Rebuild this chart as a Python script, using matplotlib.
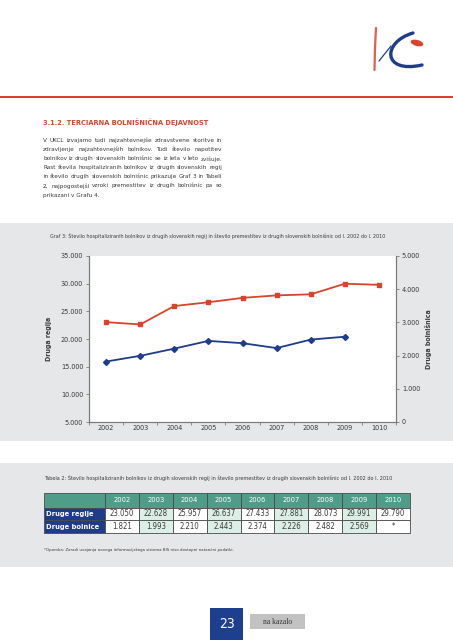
import numpy as np
import matplotlib
matplotlib.use('Agg')
from matplotlib import pyplot as plt
from matplotlib import font_manager
from matplotlib.patches import Rectangle, Ellipse, PathPatch
from matplotlib.path import Path
from matplotlib.ticker import FuncFormatter

W, H = 453, 640

# data
years = ['2002', '2003', '2004', '2005', '2006', '2007', '2008', '2009', '2010']
axis_years = ['2002', '2003', '2004', '2005', '2006', '2007', '2008', '2009', '1010']
regije = [23050, 22628, 25957, 26637, 27433, 27881, 28073, 29991, 29790]
bolnice = [1821, 1993, 2210, 2443, 2374, 2226, 2482, 2569]
row_names = ['Druge regije', 'Druge bolnice']

heading = "3.1.2. TERCIARNA BOLNIŠNIČNA DEJAVNOST"
paragraph = [
    "V UKCL izvajamo tudi najzahtevnejše zdravstvene storitve in",
    "zdravljenje najzahtevnejših bolnikov. Tudi število napotitev",
    "bolnikov iz drugih slovenskih bolnišnic se iz leta v leto zvišuje.",
    "Rast števila hospitaliziranih bolnikov iz drugih slovenskih regij",
    "in število drugih slovenskih bolnišnic prikazuje Graf 3 in Tabeli",
    "2, najpogostejši vzroki premestitev iz drugih bolnišnic pa so",
    "prikazani v Grafu 4.",
]
graf_title = ("Graf 3: Število hospitaliziranih bolnikov iz drugih slovenskih regij in število "
              "premestitev iz drugih slovenskih bolnišnic od l. 2002 do l. 2010")
tabela_title = ("Tabela 2: Število hospitaliziranih bolnikov iz drugih slovenskih regij in število "
                "premestitev iz drugih slovenskih bolnišnic od l. 2002 do l. 2010")
footnote = "*Opomba: Zaradi uvajanja novega informacijskega sistema BIS niso dostopni natančni podatki."

RED = '#d8432d'
BLUE = '#1f3c8c'
GREY_BG = '#e6e7e8'
TEAL = '#4f9d88'
LIGHT = '#dcefe6'
AXC = '#7a7a7a'
TXT = '#3a3a3a'

# pick a narrow sans if one is installed
fonts = font_manager.fontManager.ttflist
names = {f.name for f in fonts}
if 'Liberation Sans Narrow' in names:
    plt.rcParams['font.family'] = ['Liberation Sans Narrow', 'DejaVu Sans']
elif any(f.name == 'DejaVu Sans' and 'condensed' in str(f.stretch) for f in fonts):
    plt.rcParams['font.family'] = ['DejaVu Sans']
    plt.rcParams['font.stretch'] = 'condensed'
else:
    plt.rcParams['font.family'] = ['Liberation Sans', 'DejaVu Sans']

fmt = FuncFormatter(lambda v, _: f"{int(v):,}".replace(',', '.'))

fig = plt.figure(figsize=(W / 100, H / 100), dpi=100)
bg = fig.add_axes([0, 0, 1, 1], zorder=0)
bg.set_xlim(0, W)
bg.set_ylim(H, 0)
bg.axis('off')
renderer = fig.canvas.get_renderer()


def fit_text(x0, x1, y, s, size=5, **kw):
    t = bg.text(x0, y, s, fontsize=size, va='center', ha='left', **kw)
    w = t.get_window_extent(renderer).width
    t.set_fontsize(size * (x1 - x0) / w)
    return t


def justify(x0, x1, y, s, size, **kw):
    words = s.split()
    ts = [bg.text(0, y, w_, fontsize=size, va='center', ha='left', **kw) for w_ in words]
    widths = [t.get_window_extent(renderer).width for t in ts]
    gap = (x1 - x0 - sum(widths)) / (len(words) - 1)
    x = x0
    for t, w_ in zip(ts, widths):
        t.set_x(x)
        x += w_ + gap


# header line and logo
bg.add_patch(Rectangle((0, 96), W, 1.8, color=RED, lw=0))
bg.plot([376, 375, 374.5], [28, 48, 70], color=RED, lw=1.6, solid_capstyle='round', alpha=0.85)
c_path = Path([(413, 33), (382, 42), (382, 74), (422, 65)],
              [Path.MOVETO, Path.CURVE4, Path.CURVE4, Path.CURVE4])
bg.add_patch(PathPatch(c_path, fc='none', ec=BLUE, lw=2.4, capstyle='round'))
bg.plot([391, 379], [46, 61], color=BLUE, lw=0.9, solid_capstyle='round')
bg.add_patch(Ellipse((417, 43), 13, 6, angle=15, color=RED, lw=0))

# heading and text
fit_text(43, 208, 122, heading, size=7, color=RED, fontweight='bold')
sizes = []
for line in paragraph:
    t = bg.text(0, 0, line, fontsize=5.5)
    sizes.append(5.5 * 178 / t.get_window_extent(renderer).width)
    t.remove()
psize = min(5.8, min(sizes))
for i, line in enumerate(paragraph):
    y = 140.7 + i * 9.05
    if i < len(paragraph) - 1:
        justify(43, 222, y, line, psize, color=TXT)
    else:
        bg.text(43, y, line, fontsize=psize, va='center', ha='left', color=TXT)

# grey panels
bg.add_patch(Rectangle((0, 223), W, 218, color=GREY_BG, lw=0))
bg.add_patch(Rectangle((0, 463), W, 104, color=GREY_BG, lw=0))
fit_text(50, 380, 235.7, graf_title, size=4, color=TXT)

# chart
ax = fig.add_axes([89 / W, 1 - 422 / H, (396 - 89) / W, (422 - 256) / H], zorder=2)
x = np.arange(len(years))
ax.plot(x, regije, color=RED, marker='s', ms=3, lw=1.3, zorder=3)
ax2 = ax.twinx()
ax2.plot(x[:len(bolnice)], bolnice, color=BLUE, marker='D', ms=3, lw=1.3, zorder=3)
ax.set_xlim(-0.5, len(years) - 0.5)
ax.set_ylim(5000, 35000)
ax2.set_ylim(0, 5000)
ax.set_yticks(np.arange(5000, 35001, 5000))
ax2.set_yticks(np.arange(0, 5001, 1000))
ax.yaxis.set_major_formatter(fmt)
ax2.yaxis.set_major_formatter(fmt)
ax.set_xticks(np.arange(-0.5, len(years), 1))
ax.set_xticklabels([])
ax.set_xticks(x, minor=True)
ax.set_xticklabels(axis_years, minor=True)
ax.tick_params(axis='x', which='major', length=2.5, color=AXC, width=0.6)
ax.tick_params(axis='x', which='minor', length=0, pad=2, labelsize=5.2, labelcolor=TXT)
ax.tick_params(axis='y', length=2.2, pad=2, labelsize=5.2, color=AXC, width=0.6, labelcolor=TXT)
ax2.tick_params(axis='y', length=2.2, pad=2, labelsize=5.2, color=AXC, width=0.6, labelcolor=TXT)
for a in (ax, ax2):
    a.spines['top'].set_visible(False)
    for s in ('left', 'right', 'bottom'):
        a.spines[s].set_color(AXC)
        a.spines[s].set_linewidth(0.8)

bg.text(112, 313, 'Druge regije', fontsize=5.2, color=TXT, va='center', ha='left')
bg.text(112, 345, 'Druge bolnice', fontsize=5.2, color=TXT, va='center', ha='left')
bg.text(49, 339, 'Druga regija', fontsize=5, color=TXT, rotation=90,
        va='center', ha='center', fontweight='bold')
bg.text(428, 339, 'Druga bolnišnica', fontsize=5, color=TXT, rotation=90,
        va='center', ha='center', fontweight='bold')

# table
fit_text(44, 387, 478, tabela_title, size=4, color=TXT)
col_x = [44, 105] + [105 + (i + 1) * (410 - 105) / len(years) for i in range(len(years))]
row_y = [493, 507.5, 520.2, 533]
table_rows = [[fmt(v) for v in regije],
              [fmt(v) for v in bolnice] + ['*'] * (len(years) - len(bolnice))]
for j in range(len(years) + 1):
    x0, x1 = col_x[j], col_x[j + 1]
    bg.add_patch(Rectangle((x0, row_y[0]), x1 - x0, row_y[1] - row_y[0],
                           fc=TEAL, ec='#4a4a4a', lw=0.6))
    if j > 0:
        bg.text((x0 + x1) / 2, (row_y[0] + row_y[1]) / 2, years[j - 1], fontsize=5.4,
                color='white', va='center', ha='center')
for r in range(2):
    y0, y1 = row_y[r + 1], row_y[r + 2]
    bg.add_patch(Rectangle((col_x[0], y0), col_x[1] - col_x[0], y1 - y0,
                           fc=BLUE, ec='#4a4a4a', lw=0.6))
    bg.text(col_x[0] + 2.5, (y0 + y1) / 2, row_names[r], fontsize=5.4, color='white',
            va='center', ha='left', fontweight='bold')
    for j in range(len(years)):
        x0, x1 = col_x[j + 1], col_x[j + 2]
        bg.add_patch(Rectangle((x0, y0), x1 - x0, y1 - y0,
                               fc=LIGHT if j % 2 else 'white', ec='#4a4a4a', lw=0.6))
        bg.text((x0 + x1) / 2, (y0 + y1) / 2, table_rows[r][j], fontsize=5.6,
                color=TXT, va='center', ha='center')
fit_text(44, 233, 550, footnote, size=3, color=TXT)

# page footer
bg.add_patch(Rectangle((210, 608), 33, 32, color='#1d3f8e', lw=0))
bg.text(226.5, 624, '23', fontsize=10, color='white', va='center', ha='center')
bg.add_patch(Rectangle((250, 614), 55, 15, color='#c2c2c2', lw=0))
bg.text(277.5, 621.5, 'na kazalo', fontsize=5.5, color='#333333', va='center', ha='center',
        family='Liberation Serif')

fig.savefig('out.png', dpi=100)
